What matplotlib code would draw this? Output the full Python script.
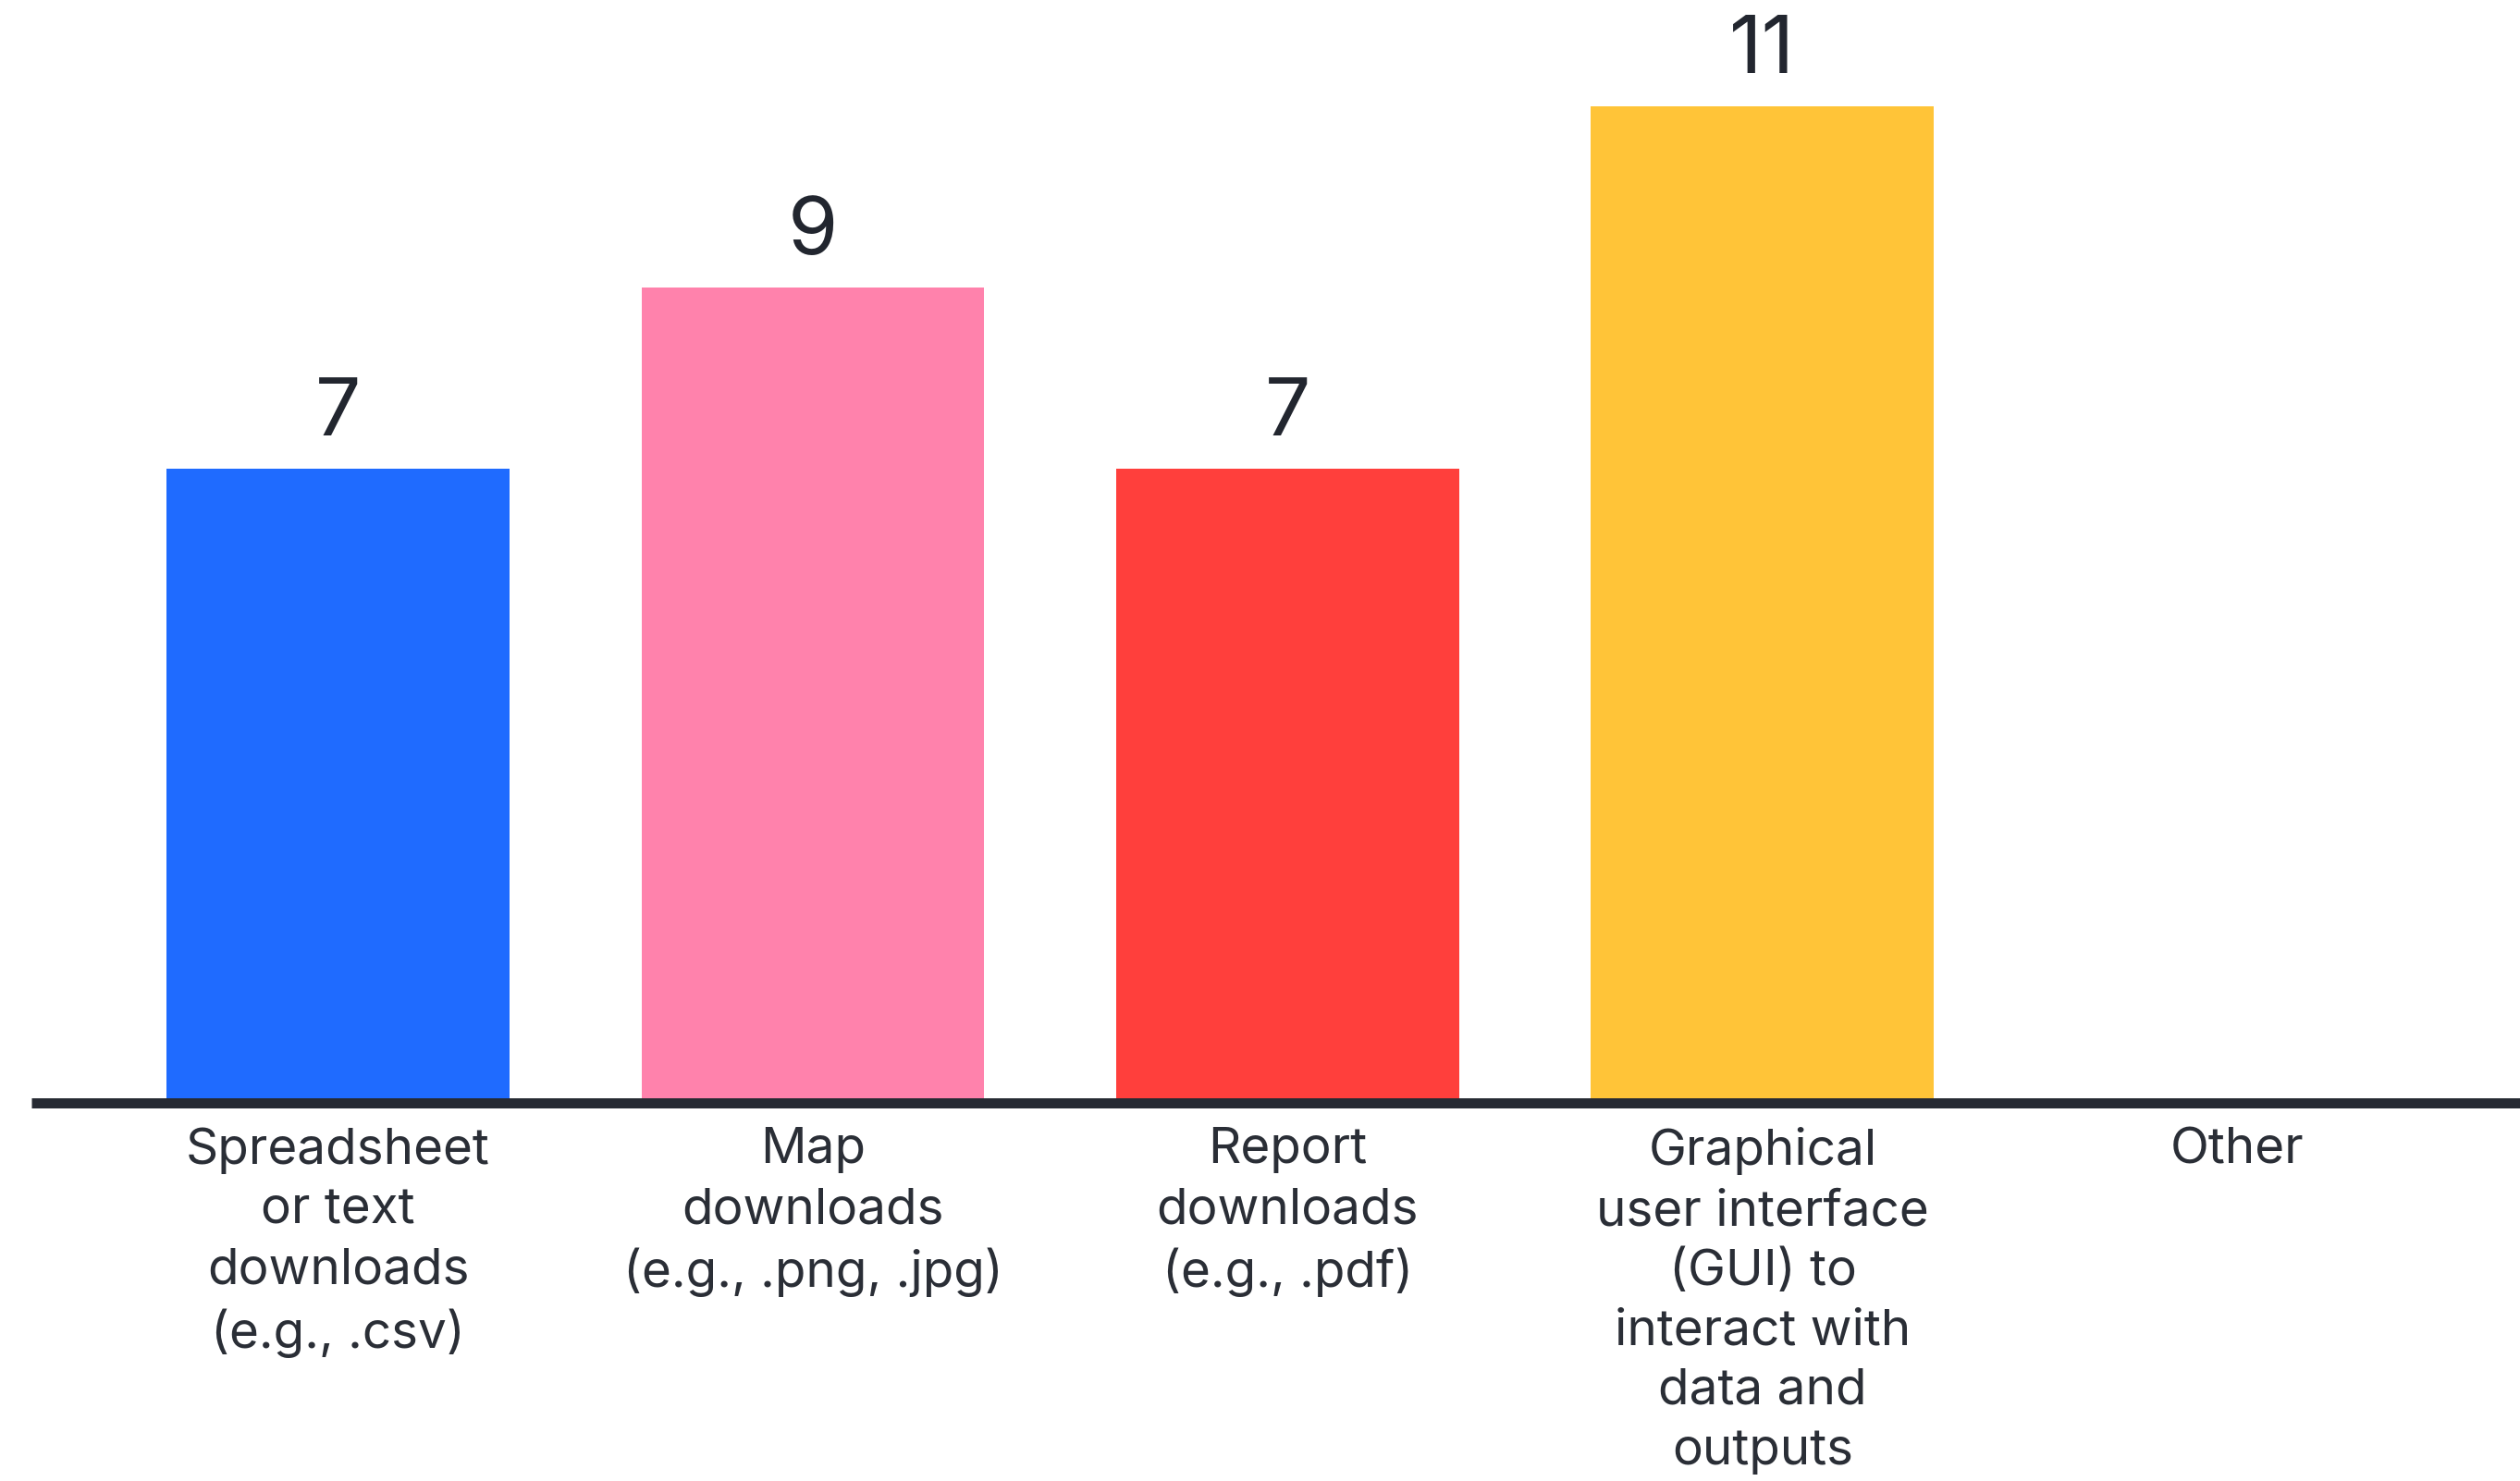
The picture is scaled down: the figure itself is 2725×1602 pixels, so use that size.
import matplotlib
matplotlib.use("Agg")
import matplotlib.pyplot as plt

categories = [
    "Spreadsheet\nor text\ndownloads\n(e.g., .csv)",
    "Map\ndownloads\n(e.g., .png, .jpg)",
    "Report\ndownloads\n(e.g., .pdf)",
    "Graphical\nuser interface\n(GUI) to\ninteract with\ndata and\noutputs",
    "Other",
]
values = [7, 9, 7, 11, 0]
colors = ["#1F6BFF", "#FF82AC", "#FF3F3C", "#FFC438", "#FFFFFF"]

plt.rcParams['font.family'] = ['Inter', 'DejaVu Sans']
text_color = "#22262F"

W, H, DPI = 2725, 1602, 100
fig = plt.figure(figsize=(W / DPI, H / DPI), dpi=DPI)
left_px, base_px = 34, 1193
ax = fig.add_axes([left_px / W, (H - base_px) / H, 1 - left_px / W, base_px / H])

x = list(range(len(categories)))
shown = [v if v > 0 else 0 for v in values]
bars = ax.bar(x, shown, width=0.7225, color=colors, zorder=2)

ax.set_xlim(-0.6456, 4.595)
ax.set_ylim(0, 12.17)

for xi, v in zip(x, values):
    if v > 0:
        ax.annotate(str(v), xy=(xi, v), xytext=(0, 26), textcoords="offset points",
                    ha="center", va="baseline", fontsize=63, color=text_color)

ax.set_xticks(x)
ax.set_xticklabels(categories, fontsize=39.5, color="#2A2E36", linespacing=1.375)
ax.tick_params(axis="x", length=0, pad=19)
ax.set_yticks([])
for s in ["top", "right", "left"]:
    ax.spines[s].set_visible(False)
ax.spines["bottom"].set_linewidth(7.9)
ax.spines["bottom"].set_color("#262A33")
ax.spines["bottom"].set_zorder(3)
ax.spines["bottom"].set_capstyle("butt")

fig.savefig("out.png", dpi=DPI, facecolor="white")
